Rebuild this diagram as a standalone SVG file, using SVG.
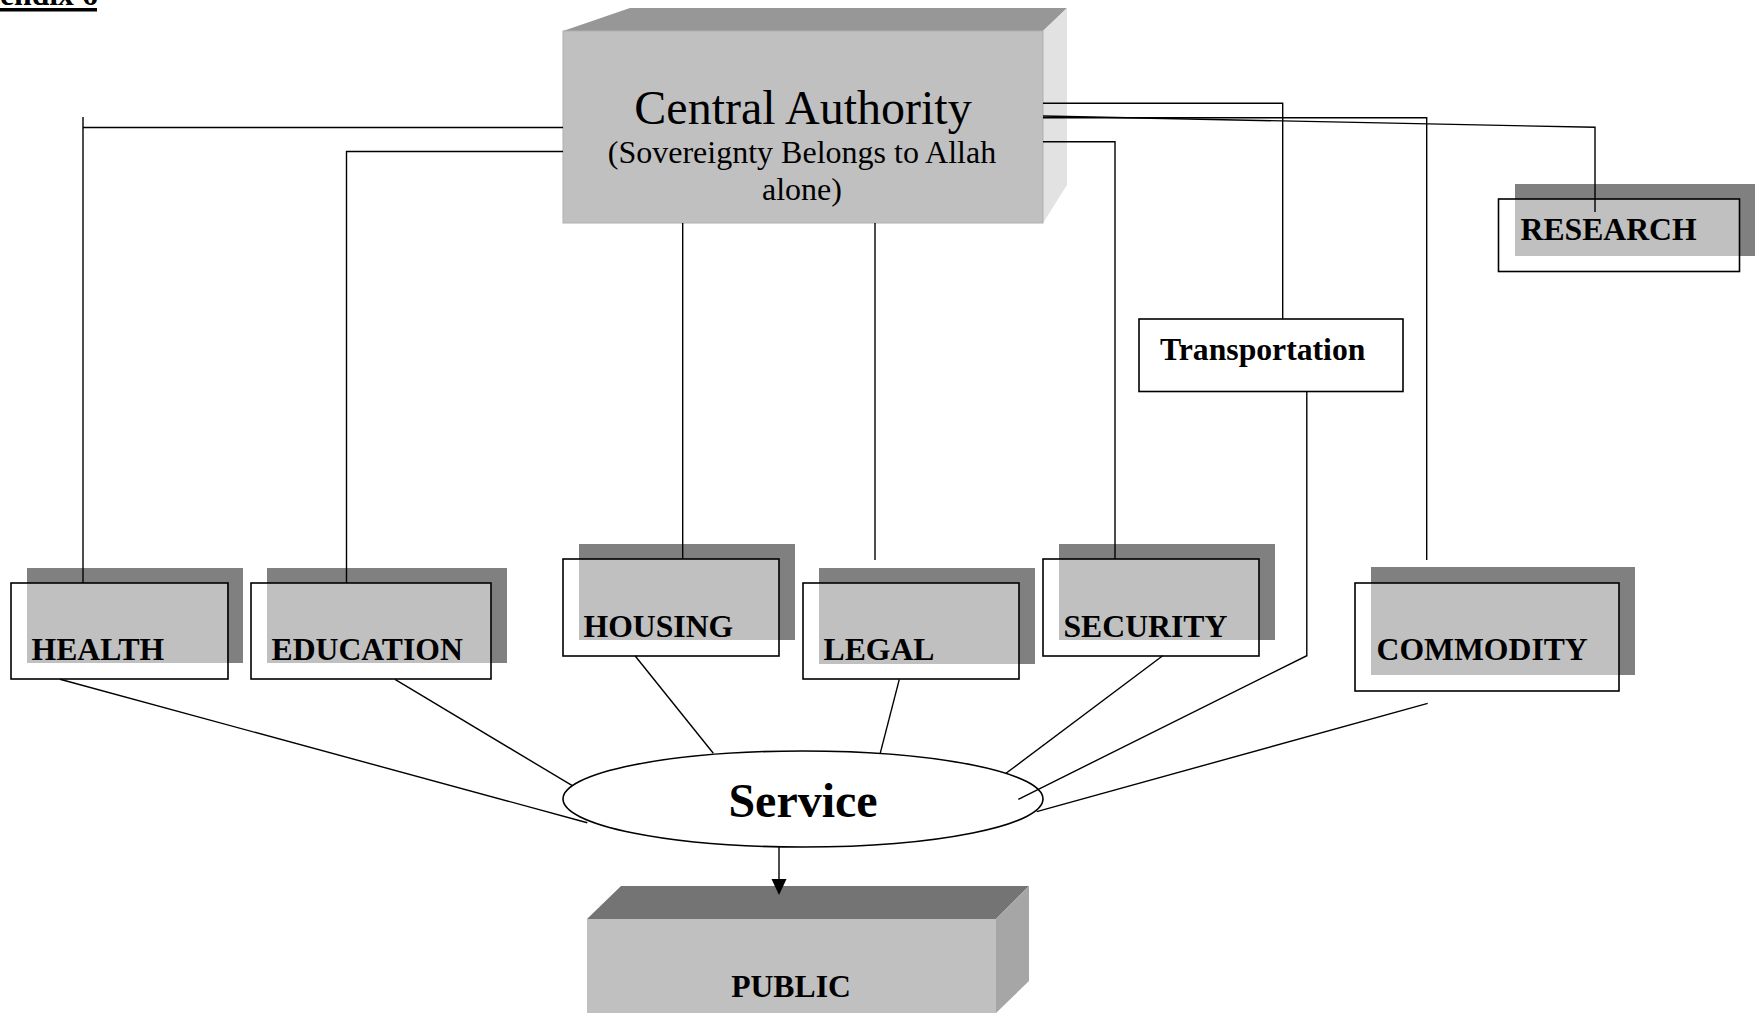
<svg xmlns="http://www.w3.org/2000/svg" width="1764" height="1013" viewBox="0 0 1764 1013">
<style>
.lbl{font-family:"Liberation Serif","Times New Roman",serif;font-weight:bold;font-size:31.7px;fill:#000}
.reg{font-family:"Liberation Serif","Times New Roman",serif;fill:#000}
.shadow{fill:#808080}
.inner{fill:#c0c0c0}
.outline{fill:none;stroke:#000;stroke-width:1.6}
.conn{fill:none;stroke:#000;stroke-width:1.4}
</style>
<rect x="0" y="0" width="1764" height="1013" fill="#fff"/>
<g id="header">
<text class="lbl" x="0" y="5">endix 6</text>
<rect x="0" y="8" width="97" height="3.5" fill="#000"/>
</g>
<g id="central">
<polygon points="563,31 630,8 1067,8 1043,31" fill="#979797"/>
<polygon points="1043,31 1067,8 1067,185 1043,223" fill="#e2e2e2"/>
<rect x="563" y="31" width="480" height="192" fill="#c0c0c0" stroke="#b0b0b0" stroke-width="1"/>
<text class="reg" x="803" y="124" style="font-size:48px" text-anchor="middle">Central Authority</text>
<text class="reg" x="802" y="163" style="font-size:32px" text-anchor="middle">(Sovereignty Belongs to Allah</text>
<text class="reg" x="802" y="200" style="font-size:32px" text-anchor="middle">alone)</text>
</g>
<g id="health">
<rect class="shadow" x="27" y="568" width="216" height="95"/>
<rect class="inner" x="27" y="583" width="200" height="80"/>
<rect class="outline" x="11" y="583" width="217" height="96"/>
<text class="lbl" x="31.5" y="660">HEALTH</text>
</g>
<g id="education">
<rect class="shadow" x="267" y="568" width="240" height="95"/>
<rect class="inner" x="267" y="583" width="224" height="80"/>
<rect class="outline" x="251" y="583" width="240" height="96"/>
<text class="lbl" x="271.5" y="660">EDUCATION</text>
</g>
<g id="housing">
<rect class="shadow" x="579" y="544" width="216" height="96"/>
<rect class="inner" x="579" y="559" width="200" height="81"/>
<rect class="outline" x="563" y="559" width="216" height="97"/>
<text class="lbl" x="583.5" y="636.7">HOUSING</text>
</g>
<g id="legal">
<rect class="shadow" x="819" y="568" width="216" height="96"/>
<rect class="inner" x="819" y="583" width="200" height="81"/>
<rect class="outline" x="803" y="583" width="216" height="96"/>
<text class="lbl" x="823.5" y="660">LEGAL</text>
</g>
<g id="security">
<rect class="shadow" x="1059" y="544" width="216" height="96"/>
<rect class="inner" x="1059" y="559" width="200" height="81"/>
<rect class="outline" x="1043" y="559" width="216" height="97"/>
<text class="lbl" x="1063.5" y="636.7">SECURITY</text>
</g>
<g id="commodity">
<rect class="shadow" x="1371" y="567" width="264" height="108"/>
<rect class="inner" x="1371" y="583" width="248" height="92"/>
<rect class="outline" x="1355" y="583" width="264" height="108"/>
<text class="lbl" x="1376.5" y="660">COMMODITY</text>
</g>
<g id="research">
<rect class="shadow" x="1515" y="184" width="240" height="72"/>
<rect class="inner" x="1515" y="199" width="224" height="57"/>
<rect class="outline" x="1498.5" y="199" width="241" height="72.5"/>
<text class="lbl" x="1520.5" y="240">RESEARCH</text>
</g>
<g id="transportation">
<rect x="1139" y="319" width="264" height="72.5" fill="#fff" stroke="#000" stroke-width="1.6"/>
<text class="lbl" x="1160" y="360">Transportation</text>
</g>
<g id="service">
<ellipse cx="803" cy="799" rx="240" ry="48" fill="#fff" stroke="#000" stroke-width="1.6"/>
<text class="lbl" x="803" y="817" style="font-size:48px" text-anchor="middle">Service</text>
</g>
<g id="public">
<polygon points="587,919 621,886 1029,886 996,919" fill="#747474"/>
<polygon points="996,919 1029,886 1029,981 996,1013" fill="#a6a6a6"/>
<rect x="587" y="919" width="409" height="100" fill="#c0c0c0"/>
<text class="lbl" x="791" y="997" text-anchor="middle">PUBLIC</text>
</g>
<g id="connectors">
<line class="conn" x1="83" y1="117" x2="83" y2="583"/>
<line class="conn" x1="83" y1="127.5" x2="563" y2="127.5"/>
<polyline class="conn" points="563,151.5 346.5,151.5 346.5,583"/>
<line class="conn" x1="682.7" y1="223" x2="682.7" y2="559"/>
<line class="conn" x1="875" y1="223" x2="875" y2="560"/>
<polyline class="conn" points="1043,141.7 1115,141.7 1115,559"/>
<polyline class="conn" points="1043,103.3 1282.7,103.3 1282.7,319"/>
<polyline class="conn" points="1043,117.7 1426.7,117.7 1426.7,560"/>
<polyline class="conn" points="1043,116 1595,127.3 1595,212"/>
<line class="conn" x1="60" y1="679.3" x2="587.3" y2="822.7"/>
<line class="conn" x1="395" y1="679.3" x2="572.3" y2="785.7"/>
<line class="conn" x1="635" y1="655.7" x2="713.3" y2="753.3"/>
<line class="conn" x1="899.3" y1="679.3" x2="880.2" y2="753.3"/>
<line class="conn" x1="1162.7" y1="655.7" x2="1006" y2="773.3"/>
<polyline class="conn" points="1306.8,391.5 1306.8,655.7 1018.3,799.3"/>
<line class="conn" x1="1427.7" y1="703.3" x2="1036.7" y2="811.7"/>
<line class="conn" x1="779" y1="847" x2="779" y2="881"/>
<polygon points="771.5,879 786.5,879 779,895" fill="#000"/>
</g>
</svg>
